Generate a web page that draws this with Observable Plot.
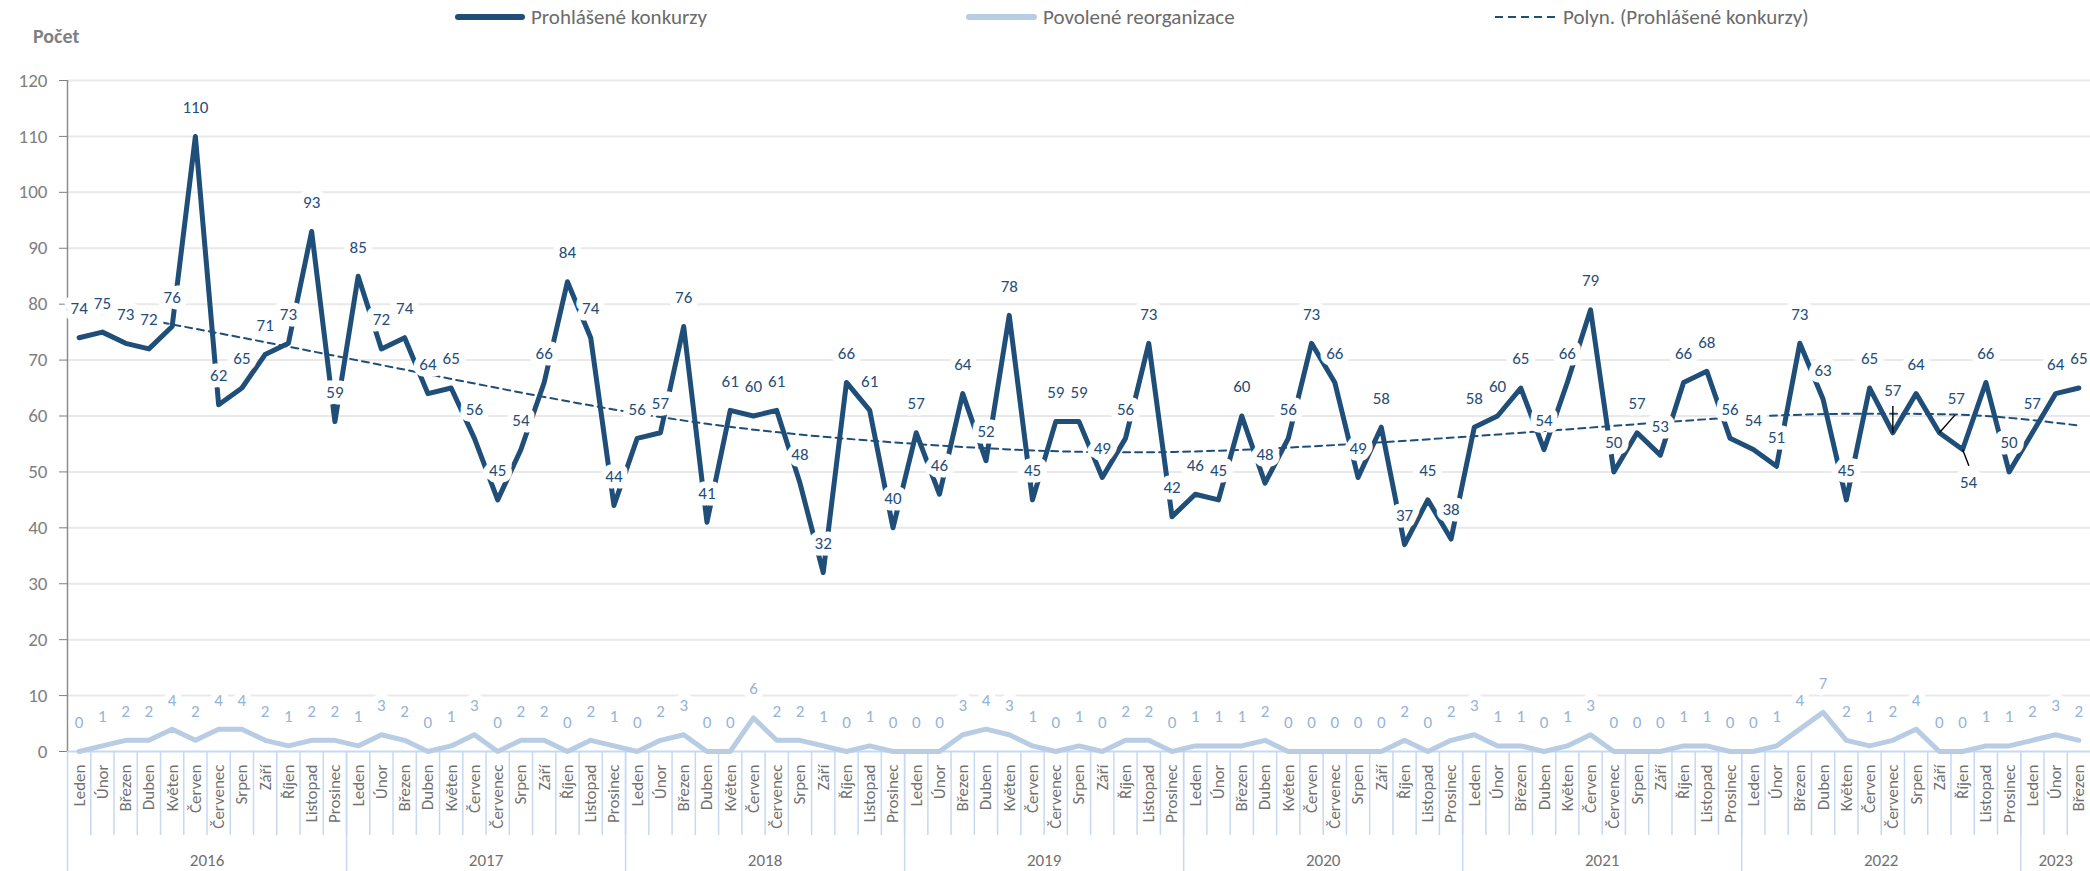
<!DOCTYPE html>
<html>
<head>
<meta charset="utf-8">
<script src="https://cdn.jsdelivr.net/npm/d3@7"></script>
<script src="https://cdn.jsdelivr.net/npm/@observablehq/plot@0.6"></script>
<style>
  body { margin: 0; background: #fff; font-family: Carlito, Calibri, Lato, sans-serif; }
  #wrap { position: relative; width: 2090px; height: 871px; overflow: hidden; background: #fff; }
  #legend { position: relative; height: 34px; }
  .li { position: absolute; top: 0; height: 34px; display: flex; align-items: center; font-size: 21px; color: #6b6b6b; white-space: nowrap; }
  .li svg { margin-right: 6px; }
  #pocet { position: absolute; left: 33px; top: 24px; font-size: 20px; font-weight: bold; color: #7f7f7f; line-height: 24px; }
  #chart svg { display: block; }
</style>
</head>
<body>
<div id="wrap">
  <div id="legend"></div>
  <div id="pocet">Počet</div>
  <div id="chart"></div>
</div>
<script>
// ---------- data ----------
const years = [2016, 2017, 2018, 2019, 2020, 2021, 2022, 2023];
const monthNames = ["Leden","Únor","Březen","Duben","Květen","Červen","Červenec","Srpen","Září","Říjen","Listopad","Prosinec"];
const seriesNames = ["Prohlášené konkurzy", "Povolené reorganizace", "Polyn. (Prohlášené konkurzy)"];

const konkurzy = [
  74, 75, 73, 72, 76, 110, 62, 65, 71, 73, 93, 59,   // 2016
  85, 72, 74, 64, 65, 56, 45, 54, 66, 84, 74, 44,    // 2017
  56, 57, 76, 41, 61, 60, 61, 48, 32, 66, 61, 40,    // 2018
  57, 46, 64, 52, 78, 45, 59, 59, 49, 56, 73, 42,    // 2019
  46, 45, 60, 48, 56, 73, 66, 49, 58, 37, 45, 38,    // 2020
  58, 60, 65, 54, 66, 79, 50, 57, 53, 66, 68, 56,    // 2021
  54, 51, 73, 63, 45, 65, 57, 64, 57, 54, 66, 50,    // 2022
  57, 64, 65                                         // 2023
];
const reorganizace = [
  0, 1, 2, 2, 4, 2, 4, 4, 2, 1, 2, 2,
  1, 3, 2, 0, 1, 3, 0, 2, 2, 0, 2, 1,
  0, 2, 3, 0, 0, 6, 2, 2, 1, 0, 1, 0,
  0, 0, 3, 4, 3, 1, 0, 1, 0, 2, 2, 0,
  1, 1, 1, 2, 0, 0, 0, 0, 0, 2, 0, 2,
  3, 1, 1, 0, 1, 3, 0, 0, 0, 1, 1, 0,
  0, 1, 4, 7, 2, 1, 2, 4, 0, 0, 1, 1,
  2, 3, 2
];
// polynomial trend line (month index -> value)
const trendIndex = [0, 9, 18, 27, 36, 45, 54, 63, 72, 78, 82, 86];
const trendValue = [79.5, 72.4, 65.0, 58.6, 55.0, 53.5, 54.8, 57.3, 59.9, 60.4, 60.0, 58.3];
const yTicks = [0, 10, 20, 30, 40, 50, 60, 70, 80, 90, 100, 110, 120];
// labels that were moved by hand (with leader lines)
const movedLabels = [
  {i: 78, dx: 0,  dy: -42, di: 0,    dv: 4.8},
  {i: 80, dx: 17, dy: -34, di: 0.68, dv: 3.2},
  {i: 81, dx: 6,  dy: 33,  di: 0.27, dv: -2.9}
];

// ---------- build table ----------
const rows = konkurzy.map((v, k) => ({
  i: k, month: monthNames[k % 12], year: years[Math.floor(k / 12)],
  konk: v, reorg: reorganizace[k]
}));
const trendRows = trendIndex.map((t, k) => ({i: t, v: trendValue[k]}));
const yearRows = d3.groups(rows, d => d.year).map(([y, ds]) => ({year: String(y), c: d3.mean(ds, d => d.i), start: ds[0].i - 0.5}));
const monthSeps = rows.slice(1).map(d => d.i - 0.5);
const yearSeps = yearRows.map(d => d.start);
const movedSet = new Set(movedLabels.map(m => m.i));
const leaderRows = movedLabels.map(m => ({x1: m.i, y1: konkurzy[m.i], x2: m.i + m.di, y2: konkurzy[m.i] + m.dv}));

const DARK = "#1f4e79", LIGHT = "#b8cce4", LIGHT_TXT = "#95b3d7", SEP = "#c6d9f1";
const FONT = "Carlito, Calibri, Lato, sans-serif";

// ---------- legend ----------
const legend = document.getElementById("legend");
const legendItems = [
  {name: seriesNames[0], left: 455, w: 70, stroke: DARK, sw: 6, dash: null},
  {name: seriesNames[1], left: 966, w: 71, stroke: LIGHT, sw: 6, dash: null},
  {name: seriesNames[2], left: 1494, w: 63, stroke: DARK, sw: 2, dash: "8,5"}
];
legendItems.forEach(it => {
  const d = document.createElement("div");
  d.className = "li";
  d.style.left = it.left + "px";
  d.innerHTML = `<svg width="${it.w}" height="10"><line x1="${it.dash ? 1 : 3}" x2="${it.w - (it.dash ? 0 : 3)}" y1="5" y2="5" stroke="${it.stroke}" stroke-width="${it.sw}" stroke-linecap="${it.dash ? "butt" : "round"}" ${it.dash ? `stroke-dasharray="${it.dash}"` : ""}/></svg><span>${it.name}</span>`;
  legend.appendChild(d);
});

// ---------- chart ----------
const halo = {stroke: "white", strokeWidth: 13, paintOrder: "stroke", strokeLinejoin: "round"};

const chart = Plot.plot({
  width: 2090,
  height: 837,
  marginTop: 46,
  marginBottom: 120,
  marginLeft: 67,
  marginRight: 0,
  x: {domain: [-0.5, konkurzy.length - 0.5], axis: null},
  y: {domain: [0, 120], axis: null},
  style: {fontFamily: FONT, background: "white", overflow: "visible"},
  marks: [
    Plot.gridY(yTicks.filter(t => t > 0), {stroke: "#e9e9e9", strokeOpacity: 1, strokeWidth: 2}),
    Plot.ruleY([0], {stroke: SEP, strokeWidth: 2}),
    Plot.ruleX([-0.5], {stroke: "#8c8c8c", strokeWidth: 1.5}),
    Plot.axisY({ticks: yTicks, tickSize: 8, tickPadding: 12, fontSize: 19, color: "#7f7f7f", label: null}),
    // category separators
    Plot.axisX({ticks: monthSeps, tickSize: 84, stroke: SEP, strokeWidth: 1.5, fill: "none", label: null}),
    Plot.axisX({ticks: yearSeps, tickSize: 120, stroke: SEP, strokeWidth: 1.5, fill: "none", label: null}),
    // month labels
    Plot.text(rows, {x: "i", text: "month", frameAnchor: "bottom", rotate: -90, textAnchor: "end", lineAnchor: "middle", dy: 13, fontSize: 17, fill: "#707070"}),
    // year labels
    Plot.text(yearRows, {x: "c", text: "year", frameAnchor: "bottom", lineAnchor: "middle", dy: 109, fontSize: 17, fill: "#707070"}),
    // series
    Plot.lineY(rows, {x: "i", y: "reorg", stroke: LIGHT, strokeWidth: 5, strokeLinejoin: "round", strokeLinecap: "round"}),
    Plot.lineY(rows, {x: "i", y: "konk", stroke: DARK, strokeWidth: 5, strokeLinejoin: "round", strokeLinecap: "round"}),
    Plot.line(trendRows, {x: "i", y: "v", curve: "natural", stroke: DARK, strokeWidth: 2, strokeDasharray: "7,5"}),
    Plot.link(leaderRows, {x1: "x1", y1: "y1", x2: "x2", y2: "y2", stroke: "black", strokeWidth: 1.4}),
    // data labels
    Plot.text(rows, {x: "i", y: "reorg", text: d => String(d.reorg), dy: -29, fontSize: 17, fill: LIGHT_TXT, ...halo}),
    Plot.text(rows.filter(d => !movedSet.has(d.i)), {x: "i", y: "konk", text: d => String(d.konk), dy: -29, fontSize: 17, fill: DARK, ...halo}),
    ...movedLabels.map(m => Plot.text(rows.filter(d => d.i === m.i), {x: "i", y: "konk", text: d => String(d.konk), dx: m.dx, dy: m.dy, fontSize: 17, fill: DARK, ...halo}))
  ]
});
document.getElementById("chart").appendChild(chart);
</script>
</body>
</html>
